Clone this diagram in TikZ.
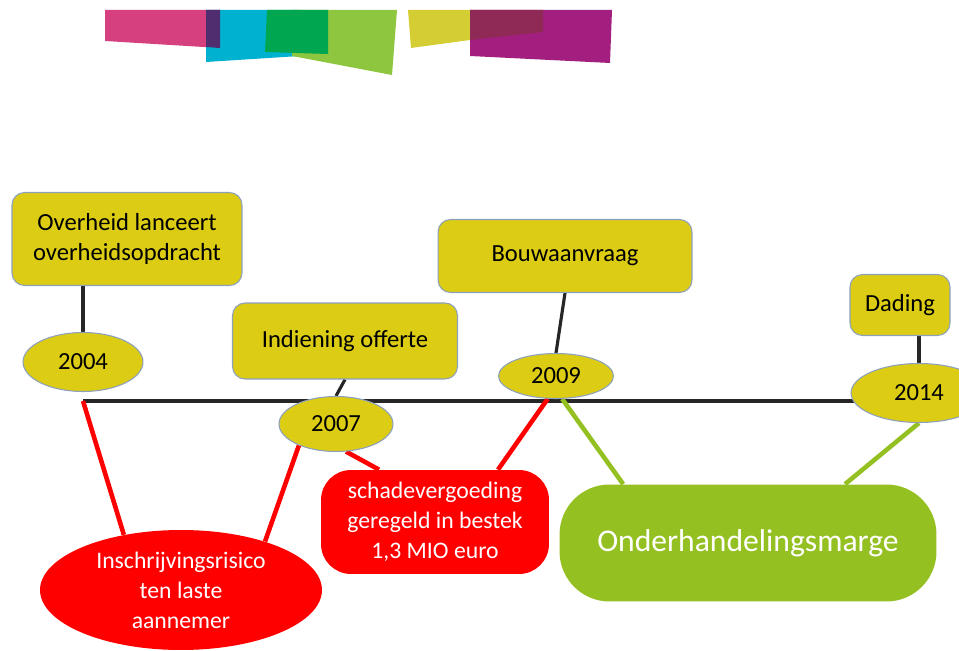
\documentclass[tikz,border=0pt]{standalone}
\usepackage{fontspec}
\setmainfont{Carlito}
\usepackage{tikz}
\usetikzlibrary{shapes.geometric, calc, backgrounds}
\definecolor{boxyellow}{RGB}{220,205,20}
\definecolor{edgeblue}{RGB}{140,160,190}
\definecolor{margegreen}{RGB}{148,192,34}
\definecolor{bpink}{RGB}{214,64,127}
\definecolor{bcyan}{RGB}{0,178,208}
\definecolor{bplum}{RGB}{80,45,110}
\definecolor{bgreen}{RGB}{0,166,80}
\definecolor{blime}{RGB}{142,198,63}
\definecolor{byellow}{RGB}{212,206,52}
\definecolor{bpurple}{RGB}{162,31,127}
\definecolor{bmaroon}{RGB}{142,42,85}

\begin{document}
\begin{tikzpicture}[x=0.02cm, y=-0.02cm,
    event/.style={draw=edgeblue, line width=0.6pt, fill=boxyellow, rounded corners=0.25cm,
      align=center, inner sep=0, font=\fontsize{14}{17}\selectfont},
    year/.style={ellipse, draw=edgeblue, line width=0.6pt, fill=boxyellow, inner sep=0,
      font=\fontsize{14}{16}\selectfont},
    note/.style={text=white, align=center, inner sep=0, font=\fontsize{13.5}{17}\selectfont},
    stem/.style={line width=1.8pt, black!85},
    redlink/.style={line width=2.6pt, red},
    greenlink/.style={line width=2.6pt, margegreen}]
  \useasboundingbox (0,0) rectangle (959,651);

  % banner
  \fill[bpink] (105,10) -- (220,10) -- (220,48) -- (105,41) -- cycle;
  \fill[bcyan] (206,10) -- (300,10) -- (300,56) -- (206,62) -- cycle;
  \fill[bplum] (206,10) -- (220,10) -- (220,48) -- (206,47) -- cycle;
  \fill[blime] (292,10) -- (397,10) -- (392,75) -- (292,56) -- cycle;
  \fill[bgreen] (267,10) -- (328,10) -- (328,54) -- (265,52) -- cycle;
  \fill[byellow] (408,10) -- (470,10) -- (470,40) -- (411,48) -- cycle;
  \fill[bpurple] (470,10) -- (612,10) -- (610,63) -- (470,56) -- cycle;
  \fill[bmaroon] (470,10) -- (543,10) -- (543,32) -- (470,40) -- cycle;

  % events above the line
  \node[event, minimum width=4.6cm, minimum height=1.86cm] (launch) at (127,239) {Overheid lanceert\\overheidsopdracht};
  \node[event, minimum width=4.5cm, minimum height=1.52cm] (offer) at (345,341) {Indiening offerte};
  \node[event, minimum width=5.08cm, minimum height=1.46cm] (permit) at (565,256) {Bouwaanvraag};
  \node[event, minimum width=2cm, minimum height=1.22cm] (settle) at (900,305) {Dading};

  % years
  \node[year, minimum width=2.4cm, minimum height=1.18cm] (y2004) at (83,362) {2004};
  \node[year, minimum width=2.28cm, minimum height=1.1cm] (y2007) at (336,424) {2007};
  \node[year, minimum width=2.3cm, minimum height=0.9cm] (y2009) at (556,376) {2009};
  \node[year, minimum width=2.72cm, minimum height=1.18cm] (y2014) at (919,393) {2014};

  % consequences below the line
  \node[note, ellipse, fill=red, minimum width=5.64cm, minimum height=2.4cm] (risk) at (181,590) {Inschrijvingsrisico\\ten laste\\aannemer};
  \node[note, fill=red, rounded corners=0.6cm, minimum width=4.56cm, minimum height=2.08cm] (damage) at (435,522) {schadevergoeding\\geregeld in bestek\\1,3 MIO euro};
  \node[note, fill=margegreen, rounded corners=1cm, minimum width=7.54cm, minimum height=2.34cm,
    font=\fontsize{18}{20}\selectfont] (margin) at (748,543) {Onderhandelingsmarge};

  \coordinate (tl) at (83,401);

  \begin{scope}[on background layer]
    \draw[stem] (y2004.north |- launch.south) -- (y2004.north);
    \draw[stem] (offer.south) -- (y2007.north);
    \draw[stem] (permit.south) -- (y2009.north);
    \draw[stem] (y2014.north |- settle.south) -- (y2014.north);
    \draw[stem] (tl) -- (tl -| y2014.center);
    \draw[redlink] (tl) -- (risk.136);
    \draw[redlink] (y2007.210) -- (risk.30);
    \draw[redlink] (y2007.290) -- ($(damage.north)+(-56,0)$);
    \draw[redlink] (y2009.250) -- ($(damage.north)+(63,0)$);
    \draw[greenlink] (y2009.285) -- ($(margin.north west)+(64,0)$);
    \draw[greenlink] (y2014.south) -- ($(margin.north)+(97,0)$);
  \end{scope}
\end{tikzpicture}
\end{document}
